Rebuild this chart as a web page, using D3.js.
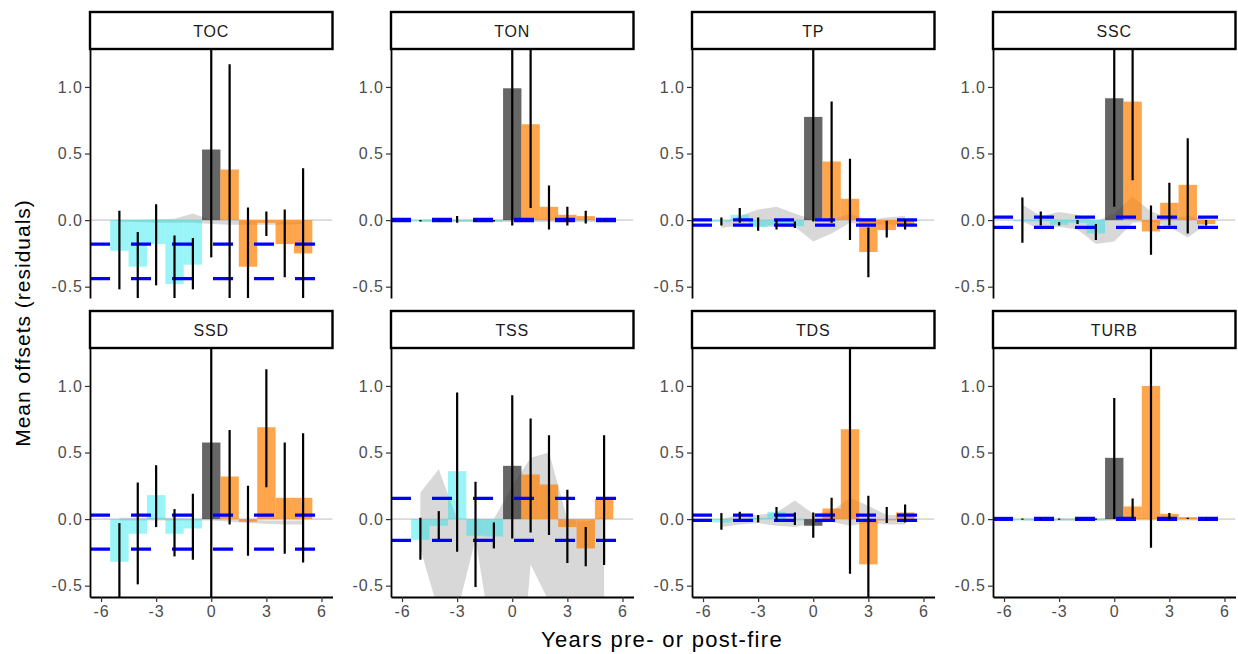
<!DOCTYPE html>
<html>
<head>
<meta charset="utf-8">
<script src="https://cdn.jsdelivr.net/npm/d3@7"></script>
<style>
  body { margin: 0; background: #fff; }
  svg { display: block; font-family: "Liberation Sans", Arial, sans-serif; }
</style>
</head>
<body>
<div id="vis"></div>
<script>
// frame + panel layout
const FRAME_WIDTH = 1238;
const FRAME_HEIGHT = 654;
const PANEL_LEFT = 90;
const PANEL_STEP = 301;
const PANEL_W = 242.5;
const PANEL_H = 249;
const ROW_TOP = [49, 348];
const STRIP_H = 37;

// data (years -5 .. 5)
const PANELS = ["TOC", "TON", "TP", "SSC", "SSD", "TSS", "TDS", "TURB"];
const YEARS = [-5, -4, -3, -2, -1, 0, 1, 2, 3, 4, 5];
const X_TICKS = [-6, -3, 0, 3, 6];
const Y_TICKS = [-0.5, 0, 0.5, 1.0];

const MEANS = [
  [-0.23, -0.35, -0.18, -0.48, -0.335, 0.53, 0.38, -0.35, -0.02, -0.18, -0.25],
  [-0.01, -0.01, -0.01, -0.01, -0.01, 0.99, 0.72, 0.10, 0.04, 0.03, 0.0],
  [-0.015, 0.04, -0.05, -0.04, -0.045, 0.775, 0.44, 0.16, -0.24, -0.075, -0.03],
  [-0.01, -0.01, -0.035, -0.02, -0.10, 0.915, 0.89, -0.085, 0.13, 0.265, -0.03],
  [-0.32, -0.11, 0.18, -0.11, -0.07, 0.575, 0.32, -0.02, 0.69, 0.16, 0.16],
  [-0.155, -0.05, 0.36, -0.125, -0.13, 0.40, 0.335, 0.26, -0.06, -0.22, 0.15],
  [-0.025, -0.01, 0.01, 0.055, -0.01, -0.05, 0.08, 0.675, -0.34, -0.01, 0.05],
  [-0.01, -0.01, -0.01, -0.01, -0.01, 0.46, 0.095, 1.0, 0.04, 0.015, 0.005]
];
const ERR_LOW = [
  [-0.52, -0.65, -0.49, -0.65, -0.52, -0.28, -0.65, -0.65, -0.12, -0.43, -0.65],
  [-0.01, -0.005, -0.02, -0.01, -0.01, -0.04, 0.09, -0.07, -0.04, -0.025, -0.005],
  [-0.04, -0.02, -0.08, -0.07, -0.06, -0.01, -0.02, -0.15, -0.43, -0.13, -0.07],
  [-0.17, -0.04, -0.04, -0.03, -0.15, 0.10, 0.30, -0.26, -0.04, -0.10, -0.04],
  [-0.65, -0.49, -0.06, -0.28, -0.305, -0.65, -0.04, -0.275, 0.24, -0.26, -0.325],
  [-0.305, -0.15, -0.245, -0.51, -0.22, -0.145, -0.10, -0.12, -0.33, -0.355, -0.345],
  [-0.08, 0.0, -0.025, -0.01, -0.045, -0.14, 0.0, -0.41, -0.65, -0.03, -0.025],
  [-0.004, -0.004, -0.004, -0.004, -0.004, 0.0, 0.0, -0.215, 0.0, 0.0, -0.01]
];
const ERR_HIGH = [
  [0.07, -0.09, 0.12, -0.115, -0.135, 1.45, 1.17, 0.095, 0.065, 0.08, 0.39],
  [0.0, 0.005, 0.03, 0.005, 0.0, 1.45, 1.45, 0.26, 0.10, 0.07, 0.005],
  [0.02, 0.09, 0.02, 0.0, -0.01, 1.45, 0.89, 0.46, -0.055, -0.005, 0.0],
  [0.17, 0.065, -0.015, 0.0, -0.03, 1.45, 1.45, 0.11, 0.28, 0.615, 0.0],
  [-0.03, 0.275, 0.405, 0.075, 0.19, 1.45, 0.67, 0.25, 1.125, 0.575, 0.645],
  [0.01, 0.06, 0.95, 0.28, -0.025, 0.93, 0.755, 0.63, 0.22, -0.06, 0.63],
  [0.045, 0.055, 0.03, 0.09, 0.05, 0.05, 0.16, 1.45, 0.175, 0.09, 0.11],
  [0.004, 0.004, 0.004, 0.004, 0.004, 0.91, 0.155, 1.45, 0.045, 0.01, 0.0]
];
const BAND_LOW = [
  [-0.01, -0.015, -0.02, -0.02, -0.02, -0.03, -0.035, -0.035, -0.035, -0.035, -0.03],
  [-0.015, -0.015, -0.015, -0.015, -0.015, -0.015, -0.015, -0.015, -0.015, -0.015, -0.015],
  [-0.06, -0.04, -0.05, -0.05, -0.05, -0.16, -0.10, -0.02, -0.04, -0.03, -0.05],
  [-0.01, -0.07, -0.05, -0.07, -0.18, -0.16, -0.02, -0.01, -0.05, -0.13, -0.035],
  [-0.01, -0.01, -0.01, -0.01, -0.01, -0.01, -0.02, -0.03, -0.035, -0.04, -0.04],
  [-0.225, -0.70, -0.70, -0.15, -1.0, -2.0, -0.34, -0.62, -0.70, -0.70, -0.60],
  [-0.06, -0.04, -0.03, -0.05, -0.06, -0.03, -0.02, -0.05, -0.03, -0.04, -0.04],
  [-0.01, -0.01, -0.01, -0.01, -0.01, -0.01, -0.01, -0.01, -0.01, -0.01, -0.01]
];
const BAND_HIGH = [
  [0.0, 0.0, 0.005, 0.01, 0.05, 0.0, 0.0, -0.005, -0.01, -0.01, -0.01],
  [0.005, 0.005, 0.005, 0.005, 0.005, 0.005, 0.005, 0.005, 0.005, 0.005, 0.005],
  [-0.02, 0.03, 0.08, 0.10, 0.05, 0.0, 0.0, 0.05, 0.0, 0.02, 0.03],
  [0.115, 0.03, 0.06, 0.04, -0.01, 0.05, 0.18, 0.065, 0.015, 0.03, 0.015],
  [0.01, 0.01, 0.01, 0.01, 0.005, 0.0, 0.0, -0.005, -0.01, -0.01, -0.01],
  [0.20, 0.375, 0.0, 0.0, 0.0, 0.25, 0.46, 0.50, 0.0, -0.02, 0.02],
  [0.0, 0.03, 0.03, 0.05, 0.14, 0.04, 0.06, 0.16, 0.10, 0.03, 0.03],
  [0.005, 0.005, 0.005, 0.005, 0.005, 0.005, 0.005, 0.005, 0.005, 0.005, 0.005]
];
const THRESH_HIGH = [-0.18, 0.005, 0.002, 0.022, 0.03, 0.155, 0.03, 0.005];
const THRESH_LOW = [-0.44, -0.005, -0.038, -0.055, -0.225, -0.16, -0.01, -0.002];

const FRAME = d3.select("#vis")
  .append("svg")
    .attr("width", FRAME_WIDTH)
    .attr("height", FRAME_HEIGHT);

// same scales in every panel (local coords)
const X_SCALE = d3.scaleLinear().domain([-6.6, 6.6]).range([0, PANEL_W]);
const Y_SCALE = d3.scaleLinear().domain([-0.585, 1.285]).range([PANEL_H, 0]);

function barFill(yr) {
  if (yr < 0) return {fill: "#00e5ee", op: 0.4};
  if (yr === 0) return {fill: "#333333", op: 0.75};
  return {fill: "#ff7f00", op: 0.7};
}

PANELS.forEach((name, p) => {
  const col = p % 4, row = Math.floor(p / 4);
  const left = PANEL_LEFT + col * PANEL_STEP;
  const top = ROW_TOP[row];

  // strip
  FRAME.append("rect")
    .attr("x", left).attr("y", top - STRIP_H)
    .attr("width", PANEL_W).attr("height", STRIP_H)
    .attr("fill", "#fff").attr("stroke", "#000").attr("stroke-width", 2.4);
  FRAME.append("text")
    .attr("x", left + PANEL_W / 2).attr("y", top - STRIP_H / 2 + 6)
    .attr("text-anchor", "middle")
    .attr("font-size", "16px").attr("letter-spacing", "0.8px")
    .attr("fill", "#1a1a1a")
    .text(name);

  const g = FRAME.append("g").attr("transform", "translate(" + left + "," + top + ")");

  FRAME.append("clipPath").attr("id", "clip" + p)
    .append("rect").attr("width", PANEL_W).attr("height", PANEL_H);
  const body = g.append("g").attr("clip-path", "url(#clip" + p + ")");

  const rows = YEARS.map((yr, i) => ({
    yr: yr, m: MEANS[p][i], lo: ERR_LOW[p][i], hi: ERR_HIGH[p][i],
    bl: BAND_LOW[p][i], bh: BAND_HIGH[p][i]
  }));

  // zero reference line
  body.append("line")
    .attr("x1", 0).attr("x2", PANEL_W)
    .attr("y1", Y_SCALE(0)).attr("y2", Y_SCALE(0))
    .attr("stroke", "#d9d9d9").attr("stroke-width", 1.6);

  // ribbon
  body.append("path")
    .datum(rows)
    .attr("d", d3.area()
      .x(d => X_SCALE(d.yr))
      .y0(d => Y_SCALE(d.bl))
      .y1(d => Y_SCALE(d.bh)))
    .attr("fill", "#bebebe").attr("fill-opacity", 0.6);

  // bars
  body.selectAll(".bar")
    .data(rows)
    .enter()
    .append("rect")
      .attr("x", d => X_SCALE(d.yr - 0.5))
      .attr("width", X_SCALE(1) - X_SCALE(0))
      .attr("y", d => Y_SCALE(Math.max(0, d.m)))
      .attr("height", d => Math.abs(Y_SCALE(d.m) - Y_SCALE(0)))
      .attr("fill", d => barFill(d.yr).fill)
      .attr("fill-opacity", d => barFill(d.yr).op);

  // threshold lines
  [THRESH_HIGH[p], THRESH_LOW[p]].forEach(t => {
    body.append("line")
      .attr("x1", 0).attr("x2", PANEL_W)
      .attr("y1", Y_SCALE(t)).attr("y2", Y_SCALE(t))
      .attr("stroke", "#0000ff").attr("stroke-width", 3.2)
      .attr("stroke-dasharray", "20,21");
  });

  // error bars
  body.selectAll(".err")
    .data(rows)
    .enter()
    .append("line")
      .attr("x1", d => X_SCALE(d.yr)).attr("x2", d => X_SCALE(d.yr))
      .attr("y1", d => Y_SCALE(d.lo)).attr("y2", d => Y_SCALE(d.hi))
      .attr("stroke", "#000").attr("stroke-width", 2.2);

  // y axis
  const yAx = g.append("g")
    .call(d3.axisLeft(Y_SCALE).tickValues(Y_TICKS)
      .tickFormat(d => d.toFixed(1)).tickSize(5).tickSizeOuter(0));
  yAx.select(".domain").attr("stroke", "#000").attr("stroke-width", 1.8);
  yAx.selectAll(".tick line").attr("stroke", "#333").attr("stroke-width", 1.2);
  yAx.selectAll(".tick text")
    .attr("x", -7).attr("fill", "#4d4d4d")
    .attr("font-size", "16px").attr("letter-spacing", "1px")
    .attr("font-family", "Liberation Sans, Arial, sans-serif");

  // x axis, bottom row only
  if (row === 1) {
    const xAx = g.append("g")
      .attr("transform", "translate(0," + PANEL_H + ")")
      .call(d3.axisBottom(X_SCALE).tickValues(X_TICKS)
        .tickFormat(d => String(d)).tickSize(5).tickSizeOuter(0));
    xAx.select(".domain").attr("stroke", "#000").attr("stroke-width", 1.8);
    xAx.selectAll(".tick line").attr("stroke", "#333").attr("stroke-width", 1.2);
    xAx.selectAll(".tick text")
      .attr("y", 9).attr("fill", "#4d4d4d")
      .attr("font-size", "16px").attr("letter-spacing", "1px")
      .attr("font-family", "Liberation Sans, Arial, sans-serif");
  }
});

// axis titles
FRAME.append("text")
  .attr("transform", "translate(30,323) rotate(-90)")
  .attr("text-anchor", "middle")
  .attr("font-size", "21px").attr("letter-spacing", "1px")
  .attr("fill", "#000")
  .text("Mean offsets (residuals)");

FRAME.append("text")
  .attr("x", 662).attr("y", 647)
  .attr("text-anchor", "middle")
  .attr("font-size", "22px").attr("letter-spacing", "1.3px")
  .attr("fill", "#000")
  .text("Years pre- or post-fire");
</script>
</body>
</html>
